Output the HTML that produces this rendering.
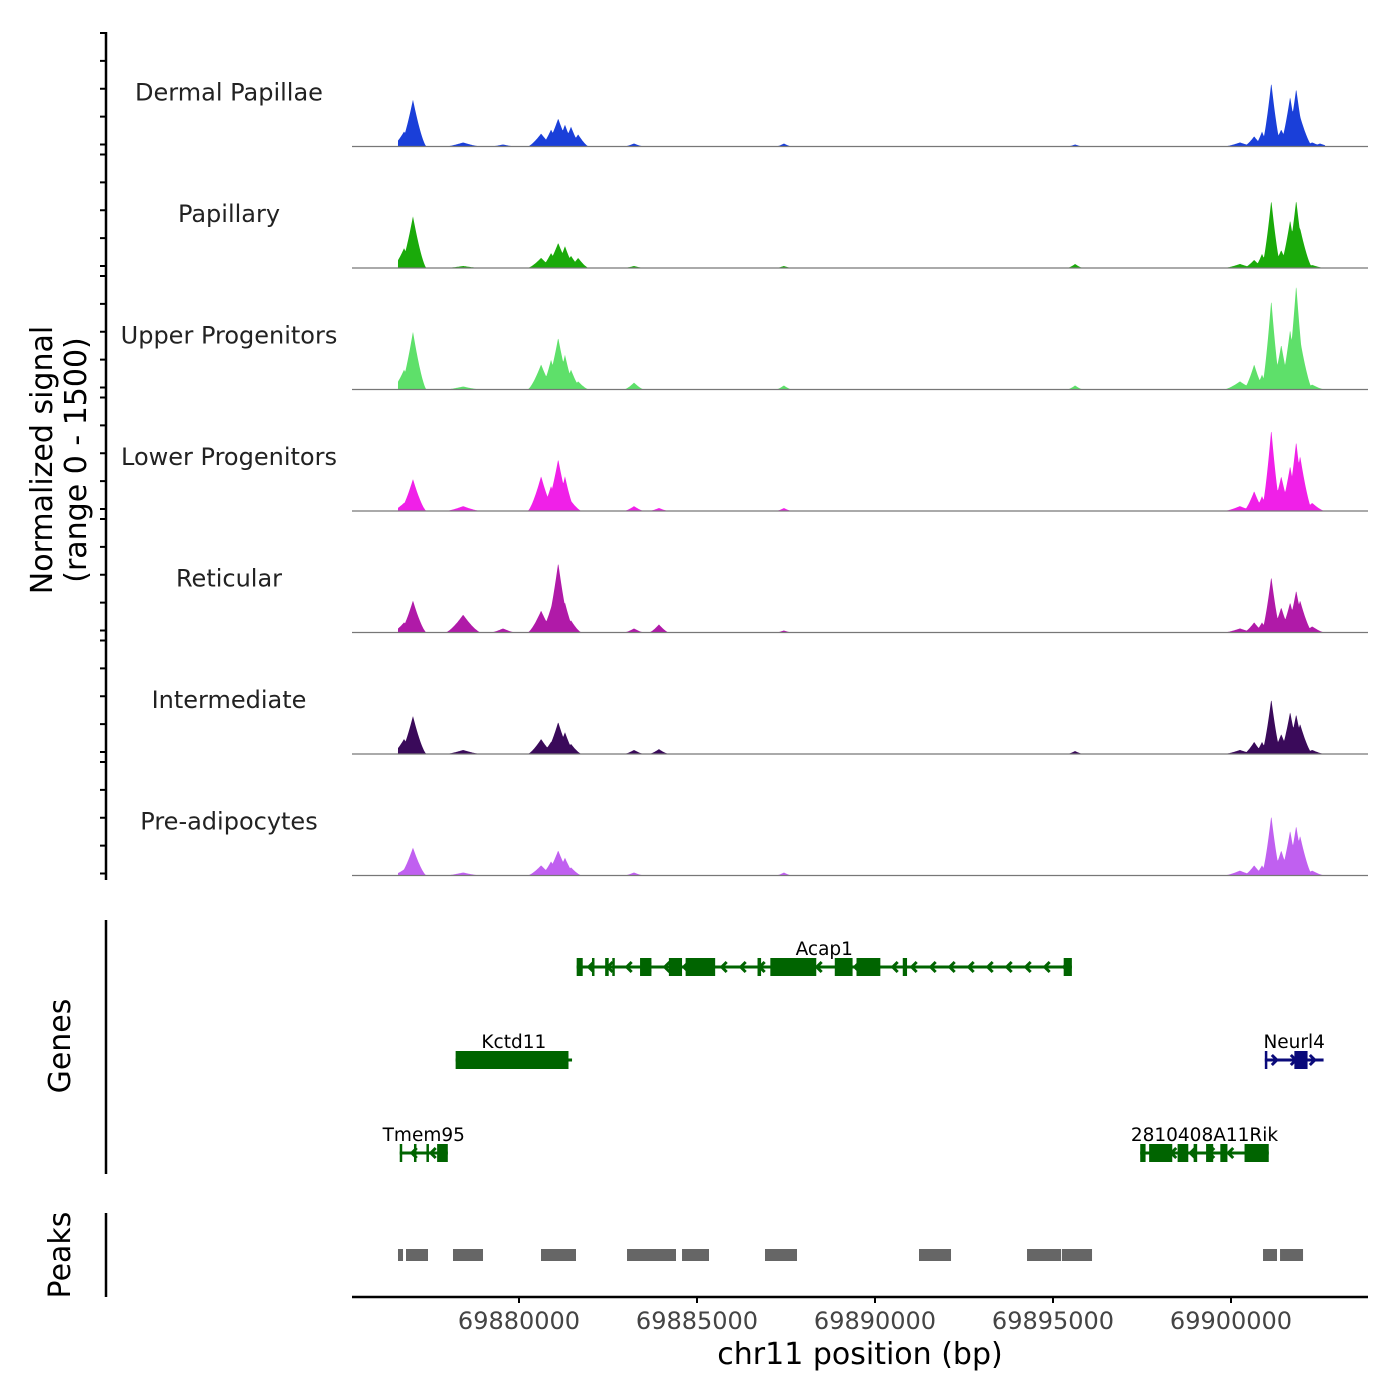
<!DOCTYPE html>
<html><head><meta charset="utf-8">
<style>
html,body{margin:0;padding:0;background:#fff;}
svg{display:block;font-family:"DejaVu Sans","Liberation Sans",sans-serif;}
</style></head>
<body>
<svg id="chart" width="1400" height="1400" viewBox="0 0 1400 1400" xmlns="http://www.w3.org/2000/svg">
  <text transform="translate(52,460) rotate(-90)" text-anchor="middle" font-size="30" fill="#000">Normalized signal</text>
  <text transform="translate(86,460) rotate(-90)" text-anchor="middle" font-size="30" fill="#000">(range 0 - 1500)</text>
  <text transform="translate(70,1046) rotate(-90)" text-anchor="middle" font-size="30" fill="#000">Genes</text>
  <text transform="translate(70,1255) rotate(-90)" text-anchor="middle" font-size="30" fill="#000">Peaks</text>
  <line x1="106" y1="920" x2="106" y2="1174" stroke="#000" stroke-width="2.5"/>
  <line x1="106" y1="1213" x2="106" y2="1297" stroke="#000" stroke-width="2.5"/>
  <line x1="106" y1="32" x2="106" y2="880" stroke="#000" stroke-width="2.5"/>
  <line x1="352" y1="1297" x2="1368" y2="1297" stroke="#000" stroke-width="2.5"/>
  <text x="860" y="1364" text-anchor="middle" font-size="30" fill="#000">chr11 position (bp)</text>
  <g id="tracks"></g>
  <g id="genes"></g>
  <g id="peaks"></g>
  <g id="xaxis"></g>
</svg>
<script>
const NS="http://www.w3.org/2000/svg";
// ---- data ----
const trackNames=["Dermal Papillae","Papillary","Upper Progenitors","Lower Progenitors","Reticular","Intermediate","Pre-adipocytes"];
const trackColors=["#1a3fd9","#1aaa0a","#5ee06a","#f020e8","#b01aa8","#3a0a5a","#c060f0"];
const peakCenters=[69876770,69877020,69878430,69879550,69880620,69880900,69881100,69881290,69881460,69881660,69883230,69883930,69887440,69895620,69900250,69900650,69900870,69901130,69901410,69901660,69901830,69901940,69902280,69902500];
const peakWidths=[350,380,500,350,380,300,380,300,300,300,280,280,220,220,450,300,220,280,300,300,300,350,350,300];
const sigDermal=[185,580,50,25,160,210,345,270,245,150,37,0,37,25,50,125,185,790,210,615,715,370,50,37];
const sigPapillary=[245,640,25,0,125,185,310,270,150,125,25,0,25,50,50,100,175,840,220,590,840,490,37,0];
const sigUpper=[245,715,37,0,310,370,640,430,245,100,85,0,50,50,100,310,185,1110,555,740,1295,615,60,0];
const sigLower=[100,395,60,0,430,310,640,430,125,0,60,37,37,0,60,245,185,1010,430,555,860,680,100,0];
const sigReticular=[125,395,220,50,270,310,860,370,150,0,50,100,25,0,50,125,125,690,310,370,520,395,75,0];
const sigIntermediate=[185,470,50,0,185,150,395,270,125,0,50,60,0,37,50,150,150,680,245,520,490,370,50,0];
const sigPreadipo=[75,345,37,0,125,175,310,220,100,0,37,0,37,0,60,125,125,740,310,555,615,490,60,0];
const trackSignals=[sigDermal,sigPapillary,sigUpper,sigLower,sigReticular,sigIntermediate,sigPreadipo];
const xTicks=[69880000,69885000,69890000,69895000,69900000];
const peakStarts=[69876601,69876826,69878146,69880618,69883034,69884579,69886910,69891236,69894270,69895250,69900899,69901377];
const peakEnds=[69876742,69877444,69878989,69881601,69884410,69885337,69887809,69892135,69895225,69896096,69901292,69902023];
const genes=[
 {name:"Acap1",row:0,start:69881620,end:69895530,color:"#006400",strand:-1,
  exS:[69881620,69882050,69882420,69882620,69883400,69884210,69884680,69885420,69886700,69887060,69888870,69889480,69890000,69890780,69895300],
  exE:[69881790,69882100,69882520,69882680,69883720,69884580,69885470,69885510,69886800,69888350,69889370,69890150,69890060,69890900,69895530]},
 {name:"Kctd11",row:1,start:69878220,end:69881490,color:"#006400",strand:-1,exS:[69878220],exE:[69881390]},
 {name:"Neurl4",row:1,start:69900950,end:69902600,color:"#0a0a7a",strand:1,exS:[69900950,69901780],exE:[69901010,69902150]},
 {name:"Tmem95",row:2,start:69876650,end:69878000,color:"#006400",strand:-1,exS:[69876650,69877050,69877400,69877700],exE:[69876700,69877100,69877450,69878000]},
 {name:"2810408A11Rik",row:2,start:69897450,end:69901060,color:"#006400",strand:-1,exS:[69897450,69897700,69898500,69898950,69899300,69899700,69900380],exE:[69897600,69898350,69898800,69899050,69899500,69899900,69901060]}
];
// ---- scales ----
const X0=352,X1=1368,B0=69875309,B1=69903848;
function xs(bp){return X0+(bp-B0)/(B1-B0)*(X1-X0);}
const trackTop=25,trackH=121.5,MAXS=1500;
function ys(i,v){return trackTop+(i+1)*trackH - v/MAXS*trackH;}
function mk(tag,attrs,parent){const e=document.createElementNS(NS,tag);for(const k in attrs)e.setAttribute(k,attrs[k]);parent.appendChild(e);return e;}
// ---- tracks ----
const tg=document.getElementById('tracks');
trackNames.forEach((name,i)=>{
  const g=mk('g',{},tg);
  
  
  const base=ys(i,0);
  const lab=mk('text',{x:229,y:base-46,'text-anchor':'middle','font-size':'24',fill:'#222'},g);
  lab.textContent=name;
  
  
  for(let k=0;k<5;k++){
    const ty=trackTop+i*trackH+8+k*(trackH-10)/4;
    const t=mk('line',{x1:100,y1:ty,x2:106,y2:ty,stroke:'#000','stroke-width':2},g);
    
    
  }
  const sig=trackSignals[i];
  let pts=[];
  const xa=xs(69876600),xb=xs(69902650);
  pts.push(xa+','+base);
  for(let x=xa;x<=xb;x+=0.5){
    const bp=B0+(x-X0)/(X1-X0)*(B1-B0);
    let v=6;
    for(let p=0;p<peakCenters.length;p++){
      const d=Math.abs(bp-peakCenters[p])/peakWidths[p];
      if(d<1){const s=sig[p]*Math.pow(1-d,1.4);if(s>v)v=s;}
    }
    pts.push(x.toFixed(1)+','+ys(i,v).toFixed(1));
  }
  pts.push(xb+','+base);
  const poly=mk('polygon',{points:pts.join(' '),fill:trackColors[i]},g);
  
  
  const bl=mk('line',{x1:X0,y1:base,x2:X1,y2:base,stroke:'#777','stroke-width':1.2},g);
  
  
});
// ---- genes ----
const gg=document.getElementById('genes');
const rowY=[967,1060,1153];
genes.forEach(gn=>{
  const g=mk('g',{},gg);
  
  
  const y=rowY[gn.row];
  const x1=xs(gn.start),x2=xs(gn.end);
  mk('line',{x1:x1,y1:y,x2:x2,y2:y,stroke:gn.color,'stroke-width':3},g);
  for(let x=x1+12;x<x2-6;x+=19){
    const d=gn.strand<0?5:-5;
    mk('polyline',{points:(x+d)+','+(y-5)+' '+x+','+y+' '+(x+d)+','+(y+5),fill:'none',stroke:gn.color,'stroke-width':3},g);
  }
  gn.exS.forEach((s,k)=>{
    const a=xs(s),b=xs(gn.exE[k]);
    mk('rect',{x:a,y:y-9,width:Math.max(2.5,b-a),height:18,fill:gn.color},g);
  });
  const t=mk('text',{x:(x1+x2)/2,y:y-12,'text-anchor':'middle','font-size':'18.5',fill:'#000'},g);
  t.textContent=gn.name;
  
  
});
// ---- peaks ----
const pg=document.getElementById('peaks');
peakStarts.forEach((s,k)=>{
  const r=mk('rect',{x:xs(s),y:1249,width:xs(peakEnds[k])-xs(s),height:12,fill:'#666'},pg);
  
  
});
// ---- x axis ----
const xg=document.getElementById('xaxis');
xTicks.forEach(v=>{
  const x=xs(v);
  const l=mk('line',{x1:x,y1:1297,x2:x,y2:1303,stroke:'#000','stroke-width':2},xg);
  
  
  const t=mk('text',{x:x,y:1329,'text-anchor':'middle','font-size':'24',fill:'#444'},xg);
  t.textContent=v;
  
  
});
</script>
</body></html>
